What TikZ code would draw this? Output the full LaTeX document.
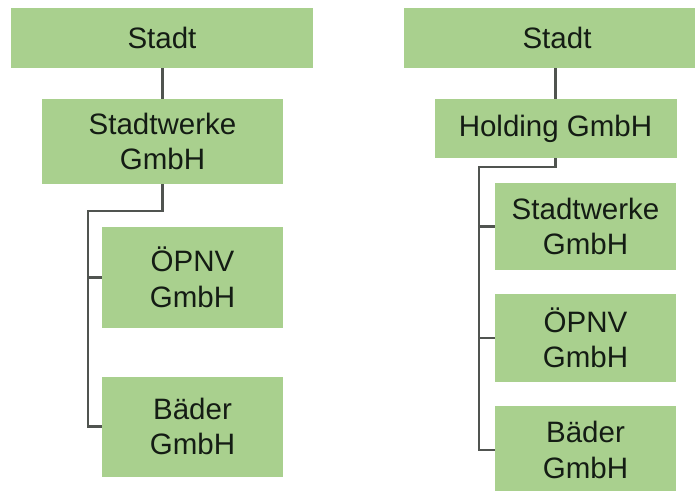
\documentclass[tikz,border=0pt]{standalone}
\usepackage{fontspec}
\setmainfont{Liberation Sans}
\definecolor{boxgreen}{RGB}{169,208,142}
\definecolor{linegray}{RGB}{80,84,80}
\definecolor{textdark}{RGB}{20,28,20}
\tikzset{
  orgbox/.style={rectangle, fill=boxgreen, inner sep=0pt, align=center,
    text=textdark, font=\fontsize{29.5}{35.5}\selectfont},
  conn/.style={draw=linegray, line width=2.2pt}
}
\begin{document}
\begin{tikzpicture}[x=1pt, y=-1pt]
\useasboundingbox (0,0) rectangle (695,490);
\clip (0,0) rectangle (695,490);
\fill[white] (0,0) rectangle (695,490);
% left tree
\node[orgbox, minimum width=302pt, minimum height=60pt] (ls) at (162,38) {Stadt};
\node[orgbox, minimum width=241pt, minimum height=85pt] (lsw) at (162.5,141.5) {Stadtwerke\\GmbH};
\node[orgbox, minimum width=181pt, minimum height=101pt] (lo) at (192.5,277.5) {ÖPNV\\GmbH};
\node[orgbox, minimum width=181pt, minimum height=100pt] (lb) at (192.5,426.5) {Bäder\\GmbH};
\coordinate (lj) at (88,211);
\draw[conn] (lsw.north) -- (lsw.north |- ls.south);
\draw[conn] (lsw.south) |- (lj) |- (lb.west);
\draw[conn] (lo.west) -- (lo.west -| lj);
% right tree
\node[orgbox, minimum width=306pt, minimum height=60pt] (rs) at (557,38) {Stadt};
\node[orgbox, minimum width=242pt, minimum height=59pt] (rh) at (555.5,128.5) {Holding GmbH};
\node[orgbox, minimum width=181pt, minimum height=87pt] (rsw) at (585.5,226.5) {Stadtwerke\\GmbH};
\node[orgbox, minimum width=181pt, minimum height=88pt] (ro) at (585.5,338) {ÖPNV\\GmbH};
\node[orgbox, minimum width=181pt, minimum height=88pt] (rb) at (585.5,450) {Bäder\\GmbH};
\coordinate (rj) at (479,167);
\draw[conn] (rh.north) -- (rh.north |- rs.south);
\draw[conn] (rh.south) |- (rj) |- (rb.west);
\draw[conn] (rsw.west) -- (rsw.west -| rj);
\draw[conn] (ro.west) -- (ro.west -| rj);
\end{tikzpicture}
\end{document}
